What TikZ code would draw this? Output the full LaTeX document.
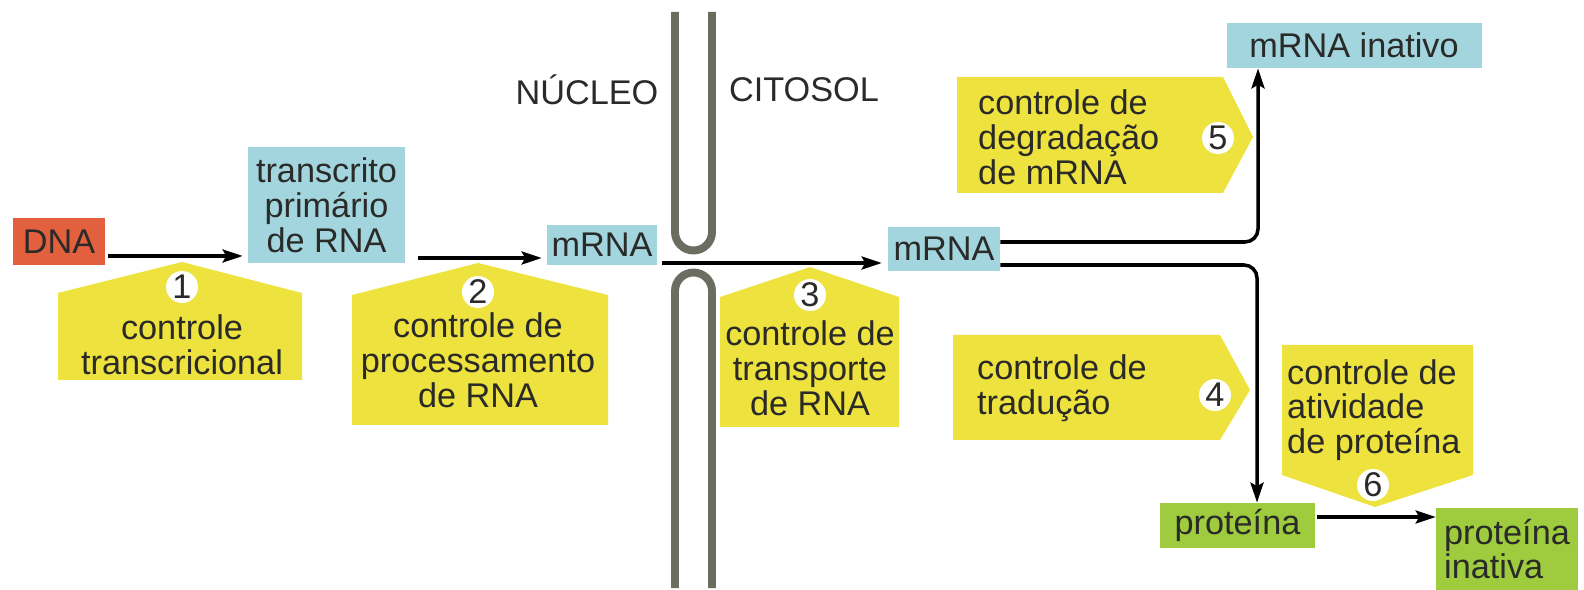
\documentclass[tikz,border=0pt]{standalone}
\usepackage{fontspec}
\setmainfont{Liberation Sans}
\usetikzlibrary{arrows.meta}
\definecolor{dnared}{HTML}{E2603E}
\definecolor{rnablue}{HTML}{A3D5DE}
\definecolor{ctrlyellow}{HTML}{EEE23E}
\definecolor{protgreen}{HTML}{9FCB3E}
\definecolor{membgray}{HTML}{6A6D60}
\definecolor{inkgray}{HTML}{2A2A28}

\begin{document}
\begin{tikzpicture}[x=0.02cm, y=-0.02cm,
    every node/.style={font=\fontsize{19.5}{19.8}\selectfont, text=inkgray},
    box/.style={inner sep=0pt, align=center},
    arr/.style={-{Stealth[length=0.4cm, width=0.26cm, inset=0.07cm]}, line width=2pt},
    ctrl/.style={fill=ctrlyellow},
    num/.style={circle, fill=white, inner sep=0pt, minimum size=0.64cm},
    membrane/.style={draw=membgray, line width=4.5pt}]
    \useasboundingbox (0,0) rectangle (1584,590);
    % nuclear envelope
    \draw[membrane] (675,12) -- (675,232) arc[start angle=180, end angle=0, radius=18.5] -- (712,12);
    \draw[membrane] (675,588) -- (675,291) arc[start angle=180, end angle=360, radius=18.5] -- (712,588);
    \node (nucleo) at (587,90) {NÚCLEO};
    \node (citosol) at (804,90) {CITOSOL};
    % control steps
    \fill[ctrl] (58,293) -- (182,262) -- (302,293) -- (302,380) -- (58,380) -- cycle;
    \fill[ctrl] (352,295) -- (478,263) -- (608,295) -- (608,425) -- (352,425) -- cycle;
    \fill[ctrl] (720,297) -- (810,267) -- (899,297) -- (899,427) -- (720,427) -- cycle;
    \fill[ctrl] (957,77) -- (1223,77) -- (1253,137) -- (1223,193) -- (957,193) -- cycle;
    \fill[ctrl] (953,335) -- (1220,335) -- (1250,390) -- (1220,440) -- (953,440) -- cycle;
    \fill[ctrl] (1282,345) -- (1473,345) -- (1473,475) -- (1375,507) -- (1282,475) -- cycle;
    \node[num] (step 1) at (182,287) {1};
    \node[num] (step 2) at (478,292) {2};
    \node[num] (step 3) at (810,295) {3};
    \node[num] (step 4) at (1215,395) {4};
    \node[num] (step 5) at (1218,138) {5};
    \node[num] (step 6) at (1373,485) {6};
    \node[align = center] (transcriptional) at (182,345) {controle\\transcricional};
    \node[align = center] (processing) at (478,360) {controle de\\processamento\\de RNA};
    \node[align = center] (transport) at (810,368) {controle de\\transporte\\de RNA};
    \node[align = left, anchor = west] (translation) at (971,388) {controle de\\tradução};
    \node[align = left, anchor = west] (degradation) at (972,137) {controle de\\degradação\\de mRNA};
    \node[align = left, anchor = west] (activity) at (1281,410) {controle de\\atividade\\de proteína};
    % molecules
    \node[box, fill=dnared, minimum width=1.84cm, minimum height=0.94cm] (dna) at (59,241.5) {DNA};
    \node[box, fill=rnablue, minimum width=3.14cm, minimum height=2.32cm] (transcript) at (326.5,205) {transcrito\\primário\\de RNA};
    \node[box, fill=rnablue, minimum width=2.2cm, minimum height=0.8cm] (mrna nucleus) at (602,245) {mRNA};
    \node[box, fill=rnablue, minimum width=2.24cm, minimum height=0.88cm] (mrna cytosol) at (944,249) {mRNA};
    \node[box, fill=rnablue, minimum width=5.1cm, minimum height=0.9cm] (inactive mrna) at (1354,45.5) {mRNA inativo};
    \node[box, fill=protgreen, minimum width=3.1cm, minimum height=0.9cm] (protein) at (1237.5,525.5) {proteína};
    \node[box, fill=protgreen, minimum width=2.84cm, minimum height=1.64cm, align=left] (inactive protein) at (1507,549) {proteína\\inativa};
    \draw[arr, shorten <=0.06cm, shorten >=0.1cm] (dna.east |- 0,256) -- (transcript.west |- 0,256);
    \draw[arr, shorten <=0.26cm, shorten >=0.1cm] (transcript.east |- 0,258) -- (mrna nucleus.west |- 0,258);
    \draw[arr, shorten <=0.1cm, shorten >=0.12cm] (mrna nucleus.east |- 0,263) -- (mrna cytosol.west |- 0,263);
    \draw[arr, rounded corners=0.26cm] (mrna cytosol.east |- 0,242) -| (1258,0 |- inactive mrna.south);
    \draw[arr, rounded corners=0.26cm] (mrna cytosol.east |- 0,265) -| (1257,0 |- protein.north);
    \draw[arr, shorten <=0.04cm] (protein.east |- 0,517) -- (inactive protein.west |- 0,517);
\end{tikzpicture}
\end{document}
